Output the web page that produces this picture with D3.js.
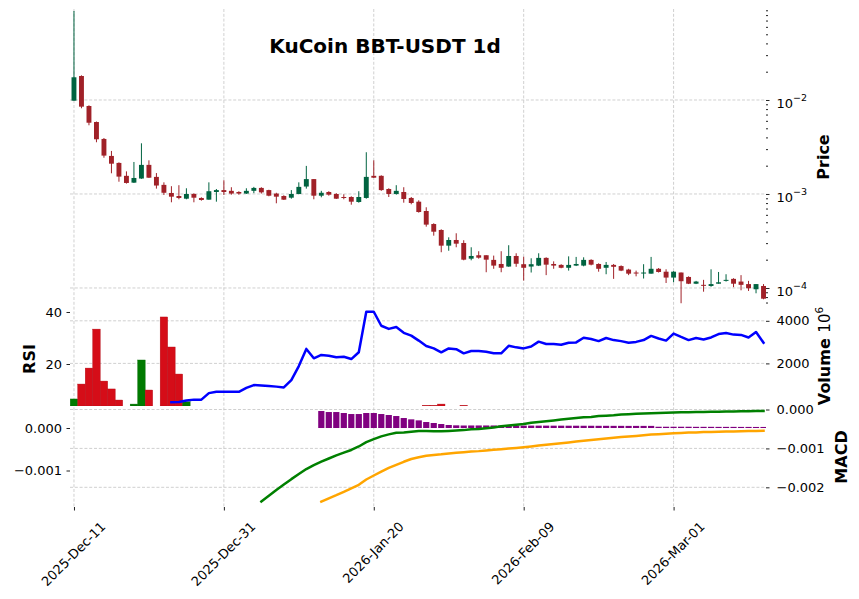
<!DOCTYPE html>
<html>
<head>
<meta charset="utf-8">
<script src="https://cdn.jsdelivr.net/npm/d3@7"></script>
<style>
  body { margin: 0; background: #fff; }
  svg { font-family: "DejaVu Sans", sans-serif; }
</style>
</head>
<body>
<svg width="859" height="599"></svg>
<script>
// ---- data (index 0 = 2025-Dec-11, one candle per day) ----
var opens = [0.00983,0.0180,0.00863,0.00583,0.00385,0.00254,0.00214,0.00156,0.00132,0.00146,
  0.00204,0.00152,0.00125,0.001025,0.000952,0.000891,0.001,0.000907,0.00087,0.00105,
  0.0011,0.00108,0.00105,0.00101,0.00108,0.00116,0.0011,0.00101,0.000952,0.000913,
  0.001,0.0012,0.00144,0.000959,0.00105,0.001,0.000929,0.000929,0.000822,0.000907,
  0.00156,0.00156,0.00113,0.001,0.00105,0.000907,0.000828,0.000659,0.000479,0.000414,
  0.000282,0.000324,0.000301,0.000205,0.000223,0.000223,0.000199,0.00018,0.000169,0.000219,
  0.000179,0.000169,0.000173,0.000209,0.00018,0.000176,0.000164,0.000173,0.000173,0.000199,
  0.00018,0.000164,0.000176,0.000171,0.000157,0.000146,0.000143,0.000142,0.00016,0.000149,
  0.000129,0.000146,0.000131,0.000111,0.000108,0.000105,0.000111,0.000119,0.000125,0.000117,
  0.00011,0.0000969,0.000105];
var highs = [0.0885,0.0183,0.00878,0.0059,0.00394,0.00287,0.00217,0.00174,0.00219,0.00346,
  0.00228,0.00167,0.00133,0.00121,0.00124,0.00115,0.00102,0.000922,0.00133,0.00113,
  0.0014,0.00118,0.00107,0.00115,0.00119,0.00118,0.00111,0.00103,0.000969,0.0011,
  0.00133,0.00199,0.00144,0.00108,0.00107,0.00102,0.000993,0.000945,0.00107,0.00278,
  0.00228,0.00158,0.00115,0.00124,0.00118,0.000929,0.000857,0.000722,0.000488,0.000421,
  0.000346,0.000382,0.000322,0.000271,0.000246,0.000223,0.000221,0.000246,0.000285,0.000234,
  0.000215,0.000207,0.000234,0.000212,0.000192,0.000179,0.000217,0.000214,0.000212,0.000202,
  0.000183,0.000189,0.00018,0.000174,0.00016,0.000153,0.000179,0.000214,0.000163,0.000158,
  0.000151,0.000146,0.000133,0.000119,0.000122,0.000158,0.000148,0.00014,0.000127,0.000137,
  0.000119,0.00011,0.00011];
var lows = [0.0098,0.00816,0.00538,0.00355,0.00243,0.00166,0.00135,0.00129,0.00131,0.00145,
  0.00148,0.00114,0.000976,0.000816,0.000878,0.000878,0.000816,0.000849,0.00087,0.000828,
  0.000976,0.000983,0.000983,0.001,0.00102,0.00101,0.000945,0.000796,0.000863,0.000891,
  0.000993,0.00114,0.000878,0.000922,0.000959,0.000885,0.000878,0.000769,0.000808,0.000891,
  0.00148,0.00108,0.000929,0.000983,0.000808,0.000777,0.000633,0.000449,0.00036,0.00024,
  0.000249,0.000271,0.000197,0.000197,0.000205,0.000147,0.00016,0.000147,0.000168,0.000168,
  0.00012,0.000146,0.000171,0.000137,0.00016,0.000162,0.000153,0.000171,0.00017,0.000174,
  0.000149,0.00014,0.000125,0.000151,0.000137,0.000133,0.000126,0.000142,0.000146,0.000113,
  0.000115,0.0000688,0.00011,0.00011,0.0000913,0.000103,0.000111,0.000117,0.000102,0.0000945,
  0.0000929,0.0000878,0.0000758];
var closes = [0.01744,0.00849,0.00573,0.00382,0.00256,0.0021,0.00153,0.00131,0.00148,0.00204,
  0.00149,0.00123,0.00103,0.000936,0.000907,0.001,0.000913,0.000863,0.00107,0.0011,
  0.00105,0.00101,0.00101,0.00108,0.00116,0.00104,0.000959,0.000936,0.00087,0.001,
  0.00119,0.00144,0.000959,0.00103,0.000983,0.000891,0.000907,0.000828,0.000929,0.00152,
  0.00149,0.0011,0.001,0.00108,0.000885,0.000802,0.000643,0.000472,0.000397,0.000282,
  0.000324,0.000296,0.0002,0.000219,0.00021,0.0002,0.000173,0.000164,0.000219,0.000181,
  0.000164,0.000179,0.000209,0.000177,0.000173,0.000164,0.000176,0.00018,0.000199,0.000177,
  0.00016,0.000176,0.000168,0.000153,0.000142,0.000143,0.000146,0.00016,0.000148,0.000129,
  0.000149,0.000118,0.000111,0.000117,0.000106,0.00011,0.000115,0.000122,0.000111,0.000108,
  0.0000993,0.00011,0.0000769];

// volume in units of 10^6
var volumes = [330,1030,1780,3610,1170,800,280,0,90,2160,
  750,0,4180,2770,1500,200,0,0,0,0,
  0,0,0,0,0,0,0,0,0,0,
  0,0,0,0,0,0,0,0,0,0,
  0,0,0,0,0,0,0,30,30,90,
  0,0,30,0,0,0,0,0,0,0,
  0,0,0,0,0,0,0,0,0,0,
  0,0,0,0,0,0,0,0,0,0,
  0,0,0,0,0,0,0,0,0,0,
  0,0,0];

var rsiStart = 13;
var rsiVals = [5.3,5.4,6.0,6.3,6.3,8.8,9.35,9.3,9.3,9.3,
  10.8,11.9,11.7,11.5,11.3,11.0,13.8,19.2,25.8,22.2,
  23.5,23.2,22.6,22.8,21.9,24.5,40.1,40.1,34.7,33.5,
  34.2,32.0,30.9,29.0,26.9,26.0,24.5,26.0,25.7,24.1,
  25.0,25.0,24.7,24.1,24.1,27.0,26.4,26.0,26.7,28.6,
  27.7,27.7,27.4,28.2,28.3,30.1,29.6,28.8,30.0,29.2,
  28.8,28.2,28.5,29.2,30.8,29.8,29.0,31.7,30.4,29.2,
  30.0,29.4,30.2,31.5,31.9,31.3,31.2,30.2,32.3,28.2];

var macdStart = 25;
var macdVals = [-0.002365,-0.00222,-0.00207,-0.00193,-0.00179,-0.00166,-0.00153,-0.00143,-0.00134,-0.00126,
  -0.00118,-0.00111,-0.00104,-0.00095,-0.00084,-0.00076,-0.00069,-0.00064,-0.0006,-0.00059,
  -0.00057,-0.00055,-0.00055,-0.00056,-0.00056,-0.00055,-0.00054,-0.00053,-0.00051,-0.0005,
  -0.00048,-0.00046,-0.00043,-0.00041,-0.00039,-0.00037,-0.00034,-0.00032,-0.0003,-0.00028,
  -0.00026,-0.00024,-0.00022,-0.0002,-0.00019,-0.00017,-0.00016,-0.00015,-0.00013,-0.00012,
  -0.00011,-0.0001,-0.000095,-0.00009,-0.000085,-0.000077,-0.000072,-0.00007,-0.000067,-0.000064,
  -0.000059,-0.000057,-0.000054,-0.000051,-0.000046,-0.000044,-0.000041,-0.000039];

var signalStart = 33;
var signalVals = [-0.001732,-0.001654,-0.001581,-0.001501,-0.001419,-0.001336,-0.001212,-0.001118,-0.001026,-0.000939,
  -0.000866,-0.000795,-0.000729,-0.000687,-0.000654,-0.000635,-0.000619,-0.000598,-0.000584,-0.000569,
  -0.000555,-0.000544,-0.000527,-0.000513,-0.000499,-0.000482,-0.000468,-0.000452,-0.000433,-0.000414,
  -0.000395,-0.000376,-0.000358,-0.000339,-0.00032,-0.000299,-0.00028,-0.000264,-0.000247,-0.000228,
  -0.000214,-0.0002,-0.000186,-0.000172,-0.000155,-0.000146,-0.000134,-0.000125,-0.000115,-0.000108,
  -0.000104,-0.000096,-0.000092,-0.000087,-0.000082,-0.00008,-0.000075,-0.000071,-0.000068,-0.000064];

var histStart = 33;
var histVals = [0.0004,0.000376,0.000376,0.000353,0.000329,0.000329,0.000353,0.000353,0.000329,0.000306,
  0.000282,0.000235,0.000204,0.00018,0.000141,0.000118,0.000094,0.000071,0.000063,0.000059,
  0.00006,0.00006,0.00006,0.00006,0.000058,0.000058,0.000058,0.000057,0.000057,0.000056,
  0.000056,0.000055,0.000055,0.000054,0.000054,0.000053,0.000053,0.000052,0.000052,0.000051,
  0.000051,0.00005,0.00005,0.00005,0.00005,0.00003,0.00003,0.00003,0.00003,0.00003,
  0.000028,0.000028,0.000028,0.000027,0.000027,0.000027,0.000026,0.000026,0.000025,0.000025];

var xTicks = [0, 20, 40, 60, 80];
var xTickLabels = ["2025-Dec-11", "2025-Dec-31", "2026-Jan-20", "2026-Feb-09", "2026-Mar-01"];
var priceTicks = [1e-4, 1e-3, 1e-2];
var volTicks = [2000, 4000];
var rsiTicks = [20, 40];
var macdRightTicks = [0, -0.001, -0.002];
var macdLeftTicks = [0, -0.001];

var titleText = "KuCoin BBT-USDT 1d";

// ---- layout ----
var svg = d3.select("svg");
var left = 70, right = 766;
var pTop = 9, pBot = 305, vTop = 305, vBot = 406, mTop = 406, mBot = 507;

var upColor = "#006340", downColor = "#a02128";
var volUp = "#007a00", volDown = "#d50d18";
var gridColor = "#c4c4c4";

var x = d3.scaleLinear().domain([-0.53, 92.33]).range([left, right]);
var yPrice = d3.scaleLog().domain([6.59e-5, 0.0929]).range([pBot, pTop]);
var yVol = d3.scaleLinear().domain([0, 4742]).range([vBot, vTop]);
var yRsi = d3.scaleLinear().domain([3.85, 42.69]).range([vBot, vTop]);
var yMacdR = d3.scaleLinear().domain([-0.002506, 0.00009]).range([mBot, mTop]);
var yMacdL = d3.scaleLinear().domain([-0.001859, 0.000518]).range([mBot, mTop]);

var defs = svg.append("defs");
function clip(id, y0, y1) {
  defs.append("clipPath").attr("id", id)
    .append("rect").attr("x", left).attr("y", y0).attr("width", right - left).attr("height", y1 - y0);
}
clip("cp", pTop, pBot);
clip("cv", vTop, vBot);
clip("cm", mTop, mBot);

// grid
var grid = svg.append("g")
  .attr("stroke", gridColor).attr("stroke-width", 0.8).attr("stroke-dasharray", "3,1.8");
xTicks.forEach(function(t) {
  grid.append("line").attr("x1", x(t)).attr("x2", x(t)).attr("y1", pTop).attr("y2", mBot);
});
function hgrid(scale, vals) {
  vals.forEach(function(v) {
    grid.append("line").attr("x1", left).attr("x2", right).attr("y1", scale(v)).attr("y2", scale(v));
  });
}
hgrid(yPrice, priceTicks);
hgrid(yVol, volTicks);
hgrid(yMacdR, macdRightTicks);

// ---- candles ----
var idx = d3.range(opens.length);
var candles = svg.append("g").attr("clip-path", "url(#cp)");
candles.selectAll("line.wick").data(idx).enter().append("line")
  .attr("x1", function(i) { return x(i); })
  .attr("x2", function(i) { return x(i); })
  .attr("y1", function(i) { return yPrice(highs[i]); })
  .attr("y2", function(i) { return yPrice(lows[i]); })
  .attr("stroke", function(i) { return closes[i] >= opens[i] ? upColor : downColor; })
  .attr("stroke-width", 1);
var bodyW = 4.9;
candles.selectAll("rect.body").data(idx).enter().append("rect")
  .attr("x", function(i) { return x(i) - bodyW / 2; })
  .attr("width", bodyW)
  .attr("y", function(i) { return yPrice(Math.max(opens[i], closes[i])); })
  .attr("height", function(i) {
    return Math.max(1, yPrice(Math.min(opens[i], closes[i])) - yPrice(Math.max(opens[i], closes[i])));
  })
  .attr("fill", function(i) { return closes[i] >= opens[i] ? upColor : downColor; });

// ---- volume + rsi ----
var volG = svg.append("g").attr("clip-path", "url(#cv)");
var barW = x(1) - x(0);
volG.selectAll("rect").data(idx.filter(function(i) { return volumes[i] > 0; })).enter().append("rect")
  .attr("x", function(i) { return x(i) - barW / 2; })
  .attr("width", barW)
  .attr("y", function(i) { return yVol(volumes[i]); })
  .attr("height", function(i) { return yVol(0) - yVol(volumes[i]); })
  .attr("fill", function(i) { return closes[i] >= opens[i] ? volUp : volDown; })
  .attr("stroke", function(i) { return closes[i] >= opens[i] ? "#006a00" : "#b20a14"; })
  .attr("stroke-width", 0.4);

var rsiLine = d3.line()
  .x(function(d, k) { return x(rsiStart + k); })
  .y(function(d) { return yRsi(d); });
volG.append("path").datum(rsiVals).attr("d", rsiLine)
  .attr("fill", "none").attr("stroke", "#0000ff").attr("stroke-width", 2.5)
  .attr("stroke-linejoin", "round").attr("stroke-linecap", "square");

// ---- macd ----
var macdG = svg.append("g").attr("clip-path", "url(#cm)");
var histW = 6.2;
macdG.selectAll("rect").data(histVals).enter().append("rect")
  .attr("x", function(d, k) { return x(histStart + k) - histW / 2; })
  .attr("width", histW)
  .attr("y", function(d) { return yMacdL(Math.max(d, 0)); })
  .attr("height", function(d) { return Math.abs(yMacdL(0) - yMacdL(d)); })
  .attr("fill", "#800080");
macdG.append("path").datum(macdVals)
  .attr("d", d3.line().x(function(d, k) { return x(macdStart + k); }).y(function(d) { return yMacdR(d); }))
  .attr("fill", "none").attr("stroke", "#008000").attr("stroke-width", 2.5)
  .attr("stroke-linejoin", "round").attr("stroke-linecap", "square");
macdG.append("path").datum(signalVals)
  .attr("d", d3.line().x(function(d, k) { return x(signalStart + k); }).y(function(d) { return yMacdL(d); }))
  .attr("fill", "none").attr("stroke", "#ffa500").attr("stroke-width", 2.5)
  .attr("stroke-linejoin", "round").attr("stroke-linecap", "square");

// ---- axes ----
function yAxis(scale, side, vals, fmt, size, pad) {
  var ax = (side == "right" ? d3.axisRight(scale) : d3.axisLeft(scale))
    .tickValues(vals).tickSize(size).tickPadding(pad).tickFormat(fmt);
  var g = svg.append("g")
    .attr("transform", "translate(" + (side == "right" ? right : left) + ",0)")
    .call(ax);
  g.select(".domain").remove();
  g.attr("font-size", 13).attr("font-family", "DejaVu Sans");
  g.selectAll(".tick line").attr("stroke", "#222");
  g.selectAll(".tick text").attr("fill", "#000");
  return g;
}
function minus(s) { return s.replace("-", "\u2212"); }

// price axis (log) with minor ticks
var minor = [];
[1e-5, 1e-4, 1e-3, 1e-2].forEach(function(b) {
  for (var m = 2; m <= 9; m++) {
    var v = b * m;
    if (v > yPrice.domain()[0] && v < yPrice.domain()[1]) minor.push(v);
  }
});
yAxis(yPrice, "right", minor, "", 2, 0);
var pAx = yAxis(yPrice, "right", priceTicks, function() { return ""; }, 3.5, 7);
pAx.selectAll(".tick text").attr("dy", "0.56em").each(function(d) {
  var t = d3.select(this);
  t.append("tspan").text("10");
  t.append("tspan").attr("dy", -6.3).attr("font-size", 9.5)
    .text("\u2212" + Math.round(-Math.log10(d)));
});

yAxis(yVol, "right", volTicks, d3.format("d"), 3.5, 7);
yAxis(yRsi, "left", rsiTicks, d3.format("d"), 3.5, 4.5);
yAxis(yMacdR, "right", macdRightTicks, function(d) { return minus(d3.format(".3f")(d)); }, 3.5, 7);
yAxis(yMacdL, "left", macdLeftTicks, function(d) { return minus(d3.format(".3f")(d)); }, 3.5, 4.5);

// x axis at bottom of macd panel
var xAx = svg.append("g").attr("transform", "translate(0," + mBot + ")")
  .call(d3.axisBottom(x).tickValues(xTicks).tickSize(3.5)
    .tickFormat(function(d, k) { return xTickLabels[k]; }));
xAx.select(".domain").remove();
xAx.attr("font-size", 13).attr("font-family", "DejaVu Sans");
xAx.selectAll(".tick line").attr("stroke", "#222");
xAx.selectAll(".tick text")
  .attr("fill", "#000")
  .attr("y", 0).attr("dy", null)
  .attr("text-anchor", "middle")
  .attr("dominant-baseline", "central")
  .attr("transform", function() {
    var len = this.getComputedTextLength();
    return "translate(-1," + (12 + (len + 15) * 0.3536) + ") rotate(-45)";
  });

// ---- labels ----
svg.append("text").attr("x", 385).attr("y", 53).attr("text-anchor", "middle")
  .attr("font-size", 20).attr("font-weight", "bold").text(titleText);

function ylabel(xp, yp, txt) {
  return svg.append("text")
    .attr("transform", "translate(" + xp + "," + yp + ") rotate(-90)")
    .attr("text-anchor", "middle")
    .attr("font-size", 16).attr("font-weight", "bold").text(txt);
}
ylabel(829, 157, "Price");
ylabel(35, 359, "RSI");
ylabel(847, 457, "MACD");
var vl = ylabel(830, 356, "Volume  ");
vl.append("tspan").attr("font-weight", "normal").attr("font-size", 15).text("10");
vl.append("tspan").attr("font-weight", "normal").attr("font-size", 10.5).attr("dy", -7).text("6");
</script>
</body>
</html>
